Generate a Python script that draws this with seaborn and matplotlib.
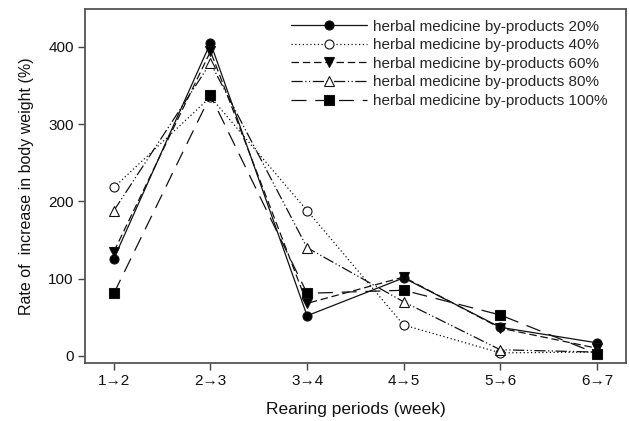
import matplotlib
matplotlib.use("Agg")
import matplotlib.pyplot as plt
import seaborn as sns
import pandas as pd

periods = ["1→2", "2→3", "3→4", "4→5", "5→6", "6→7"]
groups = ["herbal medicine by-products 20%", "herbal medicine by-products 40%",
          "herbal medicine by-products 60%", "herbal medicine by-products 80%",
          "herbal medicine by-products 100%"]
v20 = [126, 405, 52, 101, 37, 17]
v40 = [218, 335, 188, 40, 4, 5]
v60 = [135, 394, 68, 102, 36, 10]
v80 = [188, 379, 140, 70, 8, 5]
v100 = [81, 337, 81, 85, 53, 3]
values = [v20, v40, v60, v80, v100]
yticks = [0, 100, 200, 300, 400]

sns.set_theme(style="white")
plt.rcParams['font.family'] = ['Liberation Sans', 'DejaVu Sans']

styles = [
    dict(marker='o', mfc='black', ls='-'),
    dict(marker='o', mfc='white', ls=(0, (1, 2))),
    dict(marker='v', mfc='black', ls=(0, (6, 3))),
    dict(marker='^', mfc='white', ls=(0, (9, 2, 1, 2, 1, 2))),
    dict(marker='s', mfc='black', ls=(0, (12, 7))),
]

fig = plt.figure(figsize=(6.29, 4.21), dpi=100)
ax = fig.add_axes([0.135, 0.138, 0.86, 0.841])

for g, vals, st in zip(groups, values, styles):
    df = pd.DataFrame({"x": range(len(periods)), "y": vals})
    sns.lineplot(data=df, x="x", y="y", ax=ax, color="#111111", linewidth=0.9,
                 linestyle=st['ls'], marker=st['marker'], markersize=6.5,
                 markerfacecolor=st['mfc'], markeredgecolor='#111111',
                 markeredgewidth=0.8, label=g)

ax.set_xlim(-0.3, 5.3)
ax.set_ylim(-9, 449)
ax.set_xticks(range(len(periods)))
ax.set_xticklabels(periods)
ax.set_yticks(yticks)
ax.tick_params(axis='both', direction='out', length=5, width=1, color='#444444',
               labelsize=11, left=True, bottom=True, pad=3, labelcolor='#111111')
for s in ax.spines.values():
    s.set_color('#555555')
    s.set_linewidth(1.3)
ax.set_xlabel("Rearing periods (week)", fontsize=12.5, labelpad=10, color='#111111')
ax.set_ylabel("Rate of  increase in body weight (%)", fontsize=11.5, labelpad=10,
              color='#111111')
leg = ax.legend(loc='upper right', frameon=False, fontsize=11, handlelength=5.0,
                labelspacing=0.3, handletextpad=0.35, borderaxespad=0.3,
                bbox_to_anchor=(0.985, 1.0))
fig.savefig("out.png", dpi=100)
